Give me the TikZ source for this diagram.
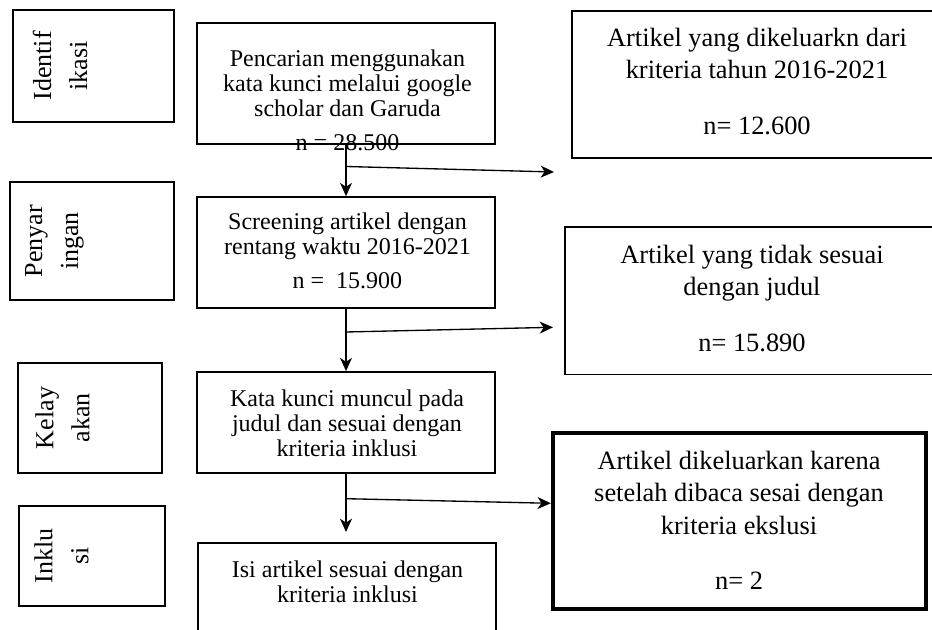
\documentclass[tikz,border=0pt]{standalone}
\usepackage{fontspec}
\setmainfont{Liberation Serif}
\usetikzlibrary{arrows.meta}
\tikzset{%
  stage/.style={draw, line width=1.3pt, inner sep=0pt},
  stagetext/.style={rotate=90, align=center, inner sep=0pt,
    font=\fontsize{19.5}{27}\selectfont},
  stepbox/.style={draw, line width=1.3pt, inner sep=0pt, minimum width=223.5pt},
  steptext/.style={align=center, inner sep=0pt, anchor=base,
    font=\fontsize{18}{18.75}\selectfont},
  outbox/.style={draw, line width=1.3pt, inner sep=0pt},
  outtext/.style={align=center, inner sep=0pt, anchor=base,
    font=\fontsize{19.8}{24.4}\selectfont},
  flow/.style={line width=1pt, -{Stealth[length=10pt,width=9pt,inset=3pt]}},
}

\begin{document}
\begin{tikzpicture}[x=0.75pt,y=-0.75pt]
  \useasboundingbox (0,0) rectangle (932,630);
  \clip (0,0) rectangle (932,630);
  % stages on the left
  \node[stage, minimum width=120.75pt, minimum height=84pt] (idf) at (93.5,66) {};
  \node[stagetext] (idf-t) at (60,66) {Identif\\ikasi};
  \node[stage, minimum width=123pt, minimum height=88.5pt] (scrn) at (92,241) {};
  \node[stagetext] (scrn-t) at (54.5,241) {Penyar\\ingan};
  \node[stage, minimum width=108pt, minimum height=82.5pt] (elg) at (90,418) {};
  \node[stagetext] (elg-t) at (62.5,418) {Kelay\\akan};
  \node[stage, minimum width=109.5pt, minimum height=75pt] (inc) at (92,556) {};
  \node[stagetext] (inc-t) at (61.5,556) {Inklu\\si};
  % main steps (text placed by its last baseline)
  \node[stepbox, minimum height=90.75pt] (search) at (346,83.5) {};
  \node[steptext] (search-t) at (347.5,150.5)
    {Pencarian menggunakan\\kata kunci melalui google\\scholar dan Garuda\\[6.75pt]n = 28.500};
  \node[stepbox, minimum height=83.25pt] (screen) at (346,252.5) {};
  \node[steptext] (screen-t) at (347.5,288.3)
    {Screening artikel dengan\\rentang waktu 2016-2021\\[6.75pt]n = \ 15.900};
  \node[stepbox, minimum height=75.75pt] (elig) at (346,422.5) {};
  \node[steptext] (elig-t) at (347,456.7)
    {Kata kunci muncul pada\\judul dan sesuai dengan\\kriteria inklusi};
  \node[stepbox, minimum height=80.25pt] (incl) at (347,596.5) {};
  \node[steptext] (incl-t) at (347.5,602.7)
    {Isi artikel sesuai dengan\\kriteria inklusi};
  % excluded articles
  \node[outbox, minimum width=277.5pt, minimum height=110.25pt] (excl1) at (757,84.5) {};
  \node[outtext] (excl1-t) at (757,135)
    {Artikel yang dikeluarkn dari\\kriteria tahun 2016-2021\\[17.6pt]n= 12.600};
  \node[outbox, minimum width=281.25pt, minimum height=110.6pt] (excl2) at (752.5,300.75) {};
  \node[outtext] (excl2-t) at (752,351.7)
    {Artikel yang tidak sesuai\\dengan judul\\[17.6pt]n= 15.890};
  \node[outbox, line width=3.3pt, minimum width=279.75pt, minimum height=132.4pt] (excl3) at (739.5,521) {};
  \node[outtext] (excl3-t) at (739,589.3)
    {Artikel dikeluarkan karena\\setelah dibaca sesai dengan\\kriteria ekslusi\\[17pt]n= 2};
  % connectors
  \coordinate (fork1) at (346,166.5);
  \coordinate (end1) at (554,172);
  \coordinate (fork2) at (346,332);
  \coordinate (end2) at (553,327.3);
  \coordinate (fork3) at (346,498.7);
  \coordinate (down3) at (346,532);
  \draw[flow] (search) -- (screen);
  \draw[flow] (fork1) -- (end1);
  \draw[flow] (screen) -- (elig);
  \draw[flow] (fork2) -- (end2);
  \draw[flow] (elig) -- (down3);
  \draw[flow] (fork3) -- (excl3.west |- 0,503.3);
\end{tikzpicture}
\end{document}
